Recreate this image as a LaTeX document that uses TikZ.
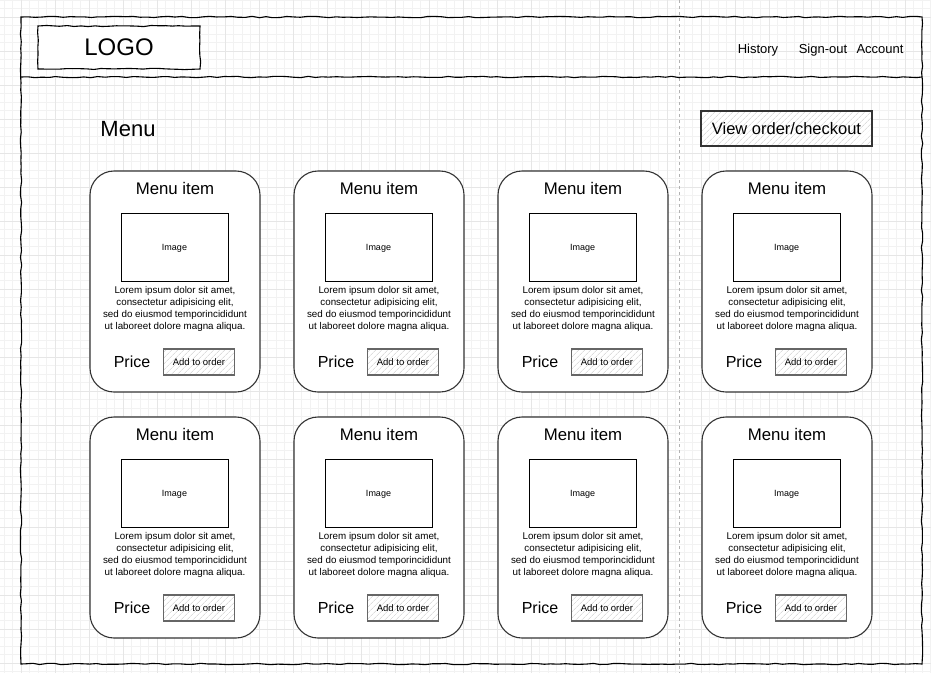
\documentclass[tikz,border=0pt]{standalone}
\usepackage{fontspec}
\setmainfont{Liberation Sans}
\usetikzlibrary{patterns.meta,decorations.pathmorphing}
\definecolor{gridminor}{HTML}{F2F2F2}
\definecolor{gridmajor}{HTML}{E6E6E6}
\definecolor{cardline}{HTML}{333333}
\definecolor{btnline}{HTML}{666666}
\tikzset{
  minorgrid/.style={draw=gridminor, line width=0.6pt},
  majorgrid/.style={draw=gridmajor, line width=0.6pt},
  sketchy/.style={draw=black, line width=1.1pt, decorate,
    decoration={random steps, segment length=7pt, amplitude=0.7pt}},
  card/.style={draw=cardline, line width=1.1pt, rounded corners=24pt,
    minimum width=170pt, minimum height=221pt, fill=white, inner sep=0pt},
  imgbox/.style={draw=black, line width=0.9pt, fill=white, minimum width=107pt,
    minimum height=68pt, inner sep=0pt, text depth=0pt, font=\fontsize{9}{10}\selectfont},
  hatch/.style={preaction={fill=white},
    pattern={Lines[angle=45, distance=4pt, line width=0.55pt]}, pattern color=black!20},
  smallbtn/.style={hatch, draw=btnline, line width=1.1pt, minimum width=71pt,
    minimum height=26pt, inner sep=0pt, text depth=0pt, font=\fontsize{9.5}{11}\selectfont},
  bigbtn/.style={hatch, draw=cardline, line width=1.1pt, minimum width=171pt,
    minimum height=35pt, inner sep=0pt, text depth=0pt, font=\fontsize{16.5}{19}\selectfont},
  titletext/.style={font=\fontsize{16.8}{19}\selectfont, inner sep=0pt, text depth=0pt},
  pricetext/.style={font=\fontsize{16}{19}\selectfont, inner sep=0pt, text depth=0pt},
  loremtext/.style={font=\fontsize{9.8}{12}\selectfont, align=center, inner sep=0pt},
  navtext/.style={font=\fontsize{13}{15}\selectfont, inner sep=0pt, anchor=base},
}
\newcommand{\menucard}[3]{% name, left x, top y
  \node[card] (#1) at (#2+85, #3+110.5) {};
  \node[titletext] (#1title) at (#2+85, #3+17) {Menu item};
  \node[imgbox] (#1img) at (#2+84.5, #3+76.5) {Image};
  \node[loremtext] (#1text) at (#2+85, #3+138) {Lorem ipsum dolor sit amet,\\consectetur adipisicing elit,\\sed do eiusmod temporincididunt\\ut laboreet dolore magna aliqua.};
  \node[pricetext] (#1price) at (#2+42, #3+191) {Price};
  \node[smallbtn] (#1btn) at (#2+109, #3+191) {Add to order};
}
\begin{document}
\begin{tikzpicture}[x=1pt, y=-1pt]
\useasboundingbox (0,0) rectangle (931,673);
\fill[white] (0,0) rectangle (931,673);
% grid
\foreach \i in {-2,...,107} {
  \pgfmathsetmacro\xx{21+8.5*\i}
  \draw[minorgrid] (\xx,0) -- (\xx,673);
}
\foreach \j in {-2,...,77} {
  \pgfmathsetmacro\yy{17+8.5*\j}
  \draw[minorgrid] (0,\yy) -- (931,\yy);
}
\foreach \i in {0,...,26} {
  \pgfmathsetmacro\xx{21+34*\i}
  \draw[majorgrid] (\xx,0) -- (\xx,673);
}
\foreach \j in {0,...,19} {
  \pgfmathsetmacro\yy{17+34*\j}
  \draw[majorgrid] (0,\yy) -- (931,\yy);
}
% dashed guide
\draw[draw=black!30, line width=0.7pt, dash pattern=on 3pt off 3pt] (679,0) -- (679,673);
% frame
\pgfmathsetseed{7}
\draw[sketchy] (21,17) -- (922,17) -- (922,664) -- (21,664) -- cycle;
\draw[sketchy] (21,77) -- (922,77);
\node[sketchy, fill=white, minimum width=162pt, minimum height=43pt, inner sep=0pt,
  text depth=0pt, font=\fontsize{24}{28}\selectfont] (logo) at (119,47.5) {LOGO};
% nav
\node[navtext] (history) at (758,53) {History};
\node[navtext] (signout) at (823,53) {Sign-out};
\node[navtext] (account) at (880,53) {Account};
% heading and checkout
\node[font=\fontsize{22}{26}\selectfont, inner sep=0pt, text depth=0pt] (menu) at (128,129) {Menu};
\node[bigbtn] (checkout) at (786.5,128.5) {View order/checkout};
% cards
\menucard{a}{90}{171}
\menucard{b}{294}{171}
\menucard{c}{498}{171}
\menucard{d}{702}{171}
\menucard{e}{90}{417}
\menucard{f}{294}{417}
\menucard{g}{498}{417}
\menucard{h}{702}{417}
\end{tikzpicture}
\end{document}
